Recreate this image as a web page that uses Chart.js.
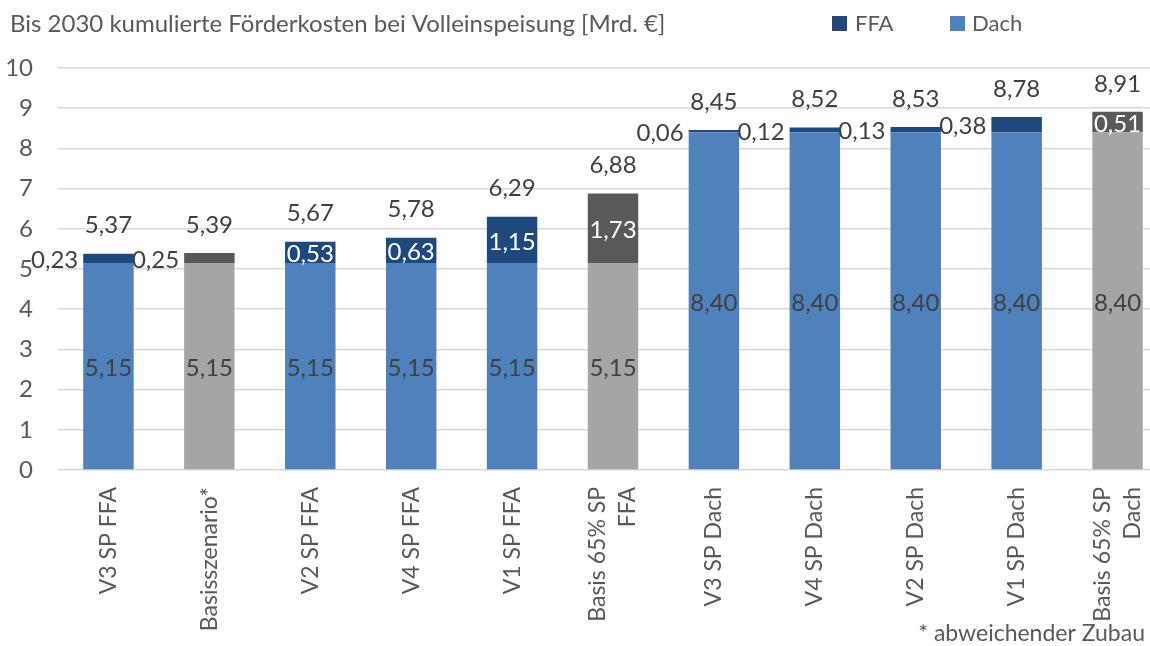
<!DOCTYPE html>
<html>
<head>
<meta charset="utf-8">
<script src="https://cdn.jsdelivr.net/npm/chart.js@4"></script>
<style>
  html, body { margin: 0; padding: 0; background: #fff; overflow: hidden; }
  #wrap { width: 1168px; height: 646px; }
</style>
</head>
<body>
<div id="wrap"><canvas id="chart"></canvas></div>
<script>
// data
var categories = ["V3 SP FFA", "Basisszenario*", "V2 SP FFA", "V4 SP FFA", "V1 SP FFA", ["Basis 65% SP", "FFA"],
                  "V3 SP Dach", "V4 SP Dach", "V2 SP Dach", "V1 SP Dach", ["Basis 65% SP", "Dach"]];
var dachValues = [5.15, 5.15, 5.15, 5.15, 5.15, 5.15, 8.40, 8.40, 8.40, 8.40, 8.40];
var ffaValues = [0.23, 0.25, 0.53, 0.63, 1.15, 1.73, 0.06, 0.12, 0.13, 0.38, 0.51];
var totalValues = [5.37, 5.39, 5.67, 5.78, 6.29, 6.88, 8.45, 8.52, 8.53, 8.78, 8.91];
var yTicks = [0, 1, 2, 3, 4, 5, 6, 7, 8, 9, 10];

var FONT = "Lato";
var TEXT = "#595959";
var LABEL = "#404040";

function isBasis(i) {
    var c = categories[i];
    return (Array.isArray(c) ? c[0] : c).indexOf("Basis") === 0;
}
function fmt(v) { return v.toFixed(2).replace(".", ","); }

var labelPlugin = {
    id: "labels",
    afterDatasetsDraw: function (chart) {
        var ctx = chart.ctx;
        var mD = chart.getDatasetMeta(0), mF = chart.getDatasetMeta(1);
        ctx.save();
        ctx.font = "24px " + FONT;
        ctx.textBaseline = "middle";
        for (var i = 0; i < categories.length; i++) {
            var d = mD.data[i], f = mF.data[i];
            ctx.textAlign = "center";
            ctx.fillStyle = LABEL;
            ctx.fillText(fmt(dachValues[i]), d.x, (d.y + d.base) / 2 + 2);
            var fy = (f.y + f.base) / 2 + 2;
            if (ffaValues[i] >= 0.5) {
                ctx.fillStyle = "#ffffff";
                ctx.fillText(fmt(ffaValues[i]), f.x, fy);
            } else {
                ctx.textAlign = "right";
                ctx.fillStyle = LABEL;
                ctx.fillText(fmt(ffaValues[i]), f.x - f.width / 2 - 5, fy);
            }
            ctx.textAlign = "center";
            ctx.fillStyle = LABEL;
            ctx.fillText(fmt(totalValues[i]), f.x, f.y - 28);
        }
        ctx.restore();
    },
    afterDraw: function (chart) {
        var ctx = chart.ctx;
        var xs = chart.scales.x;
        ctx.save();
        // category labels, rotated, multi-line ones centred on the bar
        ctx.fillStyle = TEXT;
        ctx.font = "23px " + FONT;
        ctx.textAlign = "right";
        ctx.textBaseline = "middle";
        for (var i = 0; i < categories.length; i++) {
            var lines = Array.isArray(categories[i]) ? categories[i] : [categories[i]];
            ctx.save();
            ctx.translate(xs.getPixelForTick(i), chart.chartArea.bottom + 17);
            ctx.rotate(-Math.PI / 2);
            for (var j = 0; j < lines.length; j++) {
                ctx.fillText(lines[j], 0, (j - (lines.length - 1) / 2) * 30);
            }
            ctx.restore();
        }

        ctx.textBaseline = "alphabetic";
        ctx.textAlign = "left";
        ctx.font = "24px " + FONT;
        ctx.fillText("Bis 2030 kumulierte Förderkosten bei Volleinspeisung [Mrd. €]", 10, 32);
        // legend
        ctx.font = "22px " + FONT;
        ctx.fillStyle = "#1f497d";
        ctx.fillRect(832, 16, 15, 15);
        ctx.fillStyle = TEXT;
        ctx.fillText("FFA", 855, 31);
        ctx.fillStyle = "#4f81bd";
        ctx.fillRect(950, 16, 15, 15);
        ctx.fillStyle = TEXT;
        ctx.fillText("Dach", 972, 31);
        // footnote
        ctx.font = "23px " + FONT;
        ctx.textAlign = "right";
        ctx.fillText("* abweichender Zubau", 1145, 641);
        ctx.restore();
    }
};

new Chart(document.getElementById("chart"), {
    type: "bar",
    data: {
        labels: categories,
        datasets: [
            {
                label: "Dach",
                data: dachValues,
                backgroundColor: categories.map(function (c, i) { return isBasis(i) ? "#a5a5a5" : "#4f81bd"; }),
                barPercentage: 0.5,
                categoryPercentage: 1
            },
            {
                label: "FFA",
                data: ffaValues,
                backgroundColor: categories.map(function (c, i) { return isBasis(i) ? "#595959" : "#1f497d"; }),
                barPercentage: 0.5,
                categoryPercentage: 1
            }
        ]
    },
    options: {
        responsive: true,
        maintainAspectRatio: false,
        animation: false,
        devicePixelRatio: 1,
        layout: { padding: { top: 68, left: 0, right: 0, bottom: 0 } },
        plugins: {
            legend: { display: false },
            title: { display: false },
            tooltip: { enabled: false }
        },
        scales: {
            x: {
                stacked: true,
                grid: { display: false, drawTicks: false },
                border: { display: false },
                ticks: { display: false, autoSkip: false },
                afterFit: function (scale) {
                    scale.height = 176;
                    scale.paddingLeft = 0;
                    scale.paddingRight = 0;
                }
            },
            y: {
                stacked: true,
                min: 0,
                max: 10,
                afterBuildTicks: function (scale) {
                    scale.ticks = yTicks.map(function (v) { return { value: v }; });
                },
                grid: { color: "#d9d9d9", lineWidth: 1.5, drawTicks: false },
                border: { display: false },
                ticks: {
                    color: TEXT,
                    font: { family: FONT, size: 24 },
                    padding: 25
                },
                afterFit: function (scale) { scale.width = 58; }
            }
        }
    },
    plugins: [labelPlugin]
});
</script>
</body>
</html>
